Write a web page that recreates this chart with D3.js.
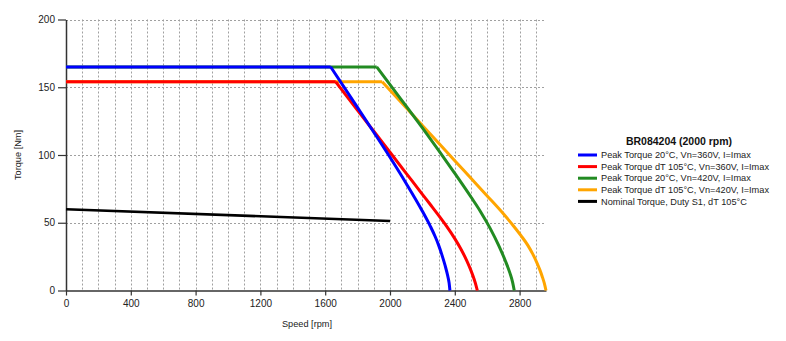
<!DOCTYPE html>
<html>
<head>
<meta charset="utf-8">
<script src="https://cdn.jsdelivr.net/npm/d3@7"></script>
<style>
  html, body { margin: 0; padding: 0; background: #fff; }
  svg { display: block; }
  text { font-family: "Liberation Sans", Arial, sans-serif; }
</style>
</head>
<body>
<svg id="chart" width="786" height="341"></svg>
<script>
// ---- data ----
const chartTitle = "BR084204 (2000 rpm)";
const seriesNames = [
  "Peak Torque 20°C, Vn=360V, I=Imax",
  "Peak Torque dT 105°C, Vn=360V, I=Imax",
  "Peak Torque 20°C, Vn=420V, I=Imax",
  "Peak Torque dT 105°C, Vn=420V, I=Imax",
  "Nominal Torque, Duty S1, dT 105°C"
];
const seriesColors = ["#0000ff", "#ff0000", "#228b22", "#ffa500", "#000000"];

const blueSpeed  = [0, 1634, 1800, 1900, 2000, 2100, 2200, 2250, 2280, 2300, 2320, 2340, 2355, 2365, 2370];
const blueTorque = [165, 165, 135, 116.8, 98.3, 79, 58.5, 47.2, 39.5, 33.5, 26.5, 18.5, 11.5, 5.5, 0];

const redSpeed  = [0, 1665, 1800, 1900, 2000, 2100, 2200, 2250, 2300, 2350, 2400, 2440, 2475, 2500, 2520, 2532, 2539];
const redTorque = [154, 154, 133, 117.5, 102, 86.5, 71, 63.3, 55.5, 47.3, 38.3, 30.1, 21.7, 14.7, 8.1, 3.3, 0];

const greenSpeed  = [0, 1918, 2000, 2100, 2200, 2300, 2400, 2500, 2560, 2620, 2670, 2710, 2740, 2757, 2767];
const greenTorque = [165, 165, 152, 136, 120, 103.5, 86.5, 69, 58, 45.5, 33.5, 22.5, 13, 6, 0];

const orangeSpeed  = [0, 1952, 2100, 2200, 2300, 2400, 2500, 2600, 2700, 2760, 2810, 2850, 2880, 2905, 2925, 2940, 2952, 2963];
const orangeTorque = [154, 154, 134.8, 121.8, 108.8, 95.8, 82.8, 69.8, 56.6, 48, 40.3, 33.5, 27.2, 21, 15.2, 10.2, 5.6, 0];

const blackSpeed  = [0, 2000];
const blackTorque = [60, 51.3];

const xTicks = [0, 400, 800, 1200, 1600, 2000, 2400, 2800];
const yTicks = [0, 50, 100, 150, 200];
const xGrid = d3.range(100, 3000, 100);
const yGrid = [50, 100, 150, 200];

const xMax = 2963;
const yMax = 200;

// ---- layout ----
const svg = d3.select("#chart");
const pLeft = 66, pRight = 546, pTop = 19.5, pBottom = 290.5;

const x = d3.scaleLinear().domain([0, xMax]).range([pLeft, pRight]);
const y = d3.scaleLinear().domain([0, yMax]).range([pBottom, pTop]);

// grid
const grid = svg.append("g");
grid.selectAll("line.vg").data(xGrid).join("line")
  .attr("x1", d => Math.round(x(d)) + 0.5).attr("x2", d => Math.round(x(d)) + 0.5)
  .attr("y1", pTop).attr("y2", pBottom)
  .attr("stroke", "#a0a0a0").attr("stroke-width", 1).attr("stroke-dasharray", "2,2");
grid.selectAll("line.hg").data(yGrid).join("line")
  .attr("x1", pLeft).attr("x2", pRight)
  .attr("y1", d => Math.round(y(d)) + 0.5).attr("y2", d => Math.round(y(d)) + 0.5)
  .attr("stroke", "#a0a0a0").attr("stroke-width", 1).attr("stroke-dasharray", "2,2");

// axes
const fmt = d3.format("d");
const xAxis = d3.axisBottom(x).tickValues(xTicks).tickFormat(fmt).tickSize(5).tickSizeOuter(0).tickPadding(4);
const yAxis = d3.axisLeft(y).tickValues(yTicks).tickFormat(fmt).tickSize(8).tickSizeOuter(0).tickPadding(3);

const gx = svg.append("g").attr("transform", `translate(0,${pBottom})`).call(xAxis);
const gy = svg.append("g").attr("transform", `translate(${pLeft},0)`).call(yAxis);
[gx, gy].forEach(g => {
  g.select(".domain").attr("stroke", "#333").attr("stroke-width", 1.5);
  g.selectAll(".tick line").attr("stroke", "#333").attr("stroke-width", 1.2);
  g.selectAll(".tick text").attr("fill", "#222").style("font-size", "10px")
   .style("font-family", "'Liberation Sans', Arial, sans-serif");
});

// axis titles
svg.append("text").attr("x", 307).attr("y", 327).attr("text-anchor", "middle")
  .style("font-size", "9.2px").attr("fill", "#222").text("Speed [rpm]");
svg.append("text").attr("transform", "translate(21,155) rotate(-90)").attr("text-anchor", "middle")
  .style("font-size", "9.2px").attr("fill", "#222").text("Torque [Nm]");

// series
const series = [
  [blueSpeed, blueTorque],
  [redSpeed, redTorque],
  [greenSpeed, greenTorque],
  [orangeSpeed, orangeTorque],
  [blackSpeed, blackTorque]
];
const line = d3.line().x(d => x(d[0])).y(d => y(d[1])).curve(d3.curveMonotoneX);
const lineLin = d3.line().x(d => x(d[0])).y(d => y(d[1]));

const drawOrder = [4, 3, 2, 1, 0];
drawOrder.forEach(i => {
  const [sx, sy] = series[i];
  const pts = sx.map((v, k) => [v, sy[k]]);
  const flat = pts.slice(0, 2);
  const rest = pts.slice(1);
  const w = i === 4 ? 2.6 : 3;
  const g = svg.append("g");
  g.append("path").attr("d", lineLin(flat)).attr("fill", "none")
    .attr("stroke", seriesColors[i]).attr("stroke-width", w);
  if (rest.length > 1) {
    g.append("path").attr("d", (i === 4 ? lineLin : line)(rest)).attr("fill", "none")
      .attr("stroke", seriesColors[i]).attr("stroke-width", w)
      .attr("stroke-linejoin", "round");
  }
});

// legend
const lg = svg.append("g");
lg.append("text").attr("x", 679).attr("y", 144.5).attr("text-anchor", "middle")
  .style("font-size", "10.5px").style("font-weight", "bold").attr("fill", "#111").text(chartTitle);
seriesNames.forEach((name, i) => {
  const cy = 155 + i * 11.6;
  lg.append("line").attr("x1", 578).attr("x2", 597).attr("y1", cy).attr("y2", cy)
    .attr("stroke", seriesColors[i]).attr("stroke-width", 3);
  lg.append("text").attr("x", 601).attr("y", cy + 3.2).style("font-size", "9.2px")
    .attr("fill", "#222").text(name);
});
</script>
</body>
</html>
